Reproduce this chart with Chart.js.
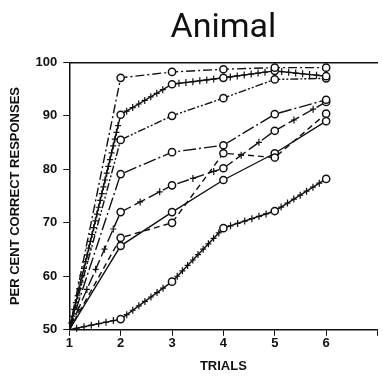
<!DOCTYPE html>
<html>
<head>
<meta charset="utf-8">
<script src="https://cdn.jsdelivr.net/npm/chart.js@4.4.1/dist/chart.umd.min.js"></script>
<style>
  html, body { margin: 0; padding: 0; background: #fff; }
  #wrap { width: 383px; height: 380px; }
</style>
</head>
<body>
<div id="wrap"><canvas id="my-chart"></canvas></div>
<script>
// values
var trials = [1, 2, 3, 4, 5, 6];
var curveA = [50, 97.1, 98.2, 98.7, 99, 99];      // dash-dot
var curveB = [50, 90.2, 95.9, 97.1, 98.4, 97.4];  // crosses
var curveC = [50, 85.5, 90, 93.3, 96.8, 97];      // dash-dot-dot
var curveD = [50, 79.1, 83.2, 84.5, 90.3, 93];    // long dash-dot
var curveE = [50, 72, 77, 80.2, 87.2, 92.6];      // dash + cross
var curveF = [50, 67.2, 70, 83, 82.2, 90.4];      // dashed
var curveG = [50, 65.7, 72, 78, 83, 89];          // solid
var curveH = [50, 52, 59, 69, 72.2, 78.2];        // solid + crosses

var yTicks = [50, 60, 70, 80, 90, 100];

function pts(vals) {
  return vals.map(function (v, i) { return { x: trials[i], y: v }; });
}

function line(vals, dash, cross) {
  return {
    data: pts(vals),
    borderColor: '#111',
    borderWidth: 1.4,
    borderDash: dash,
    pointRadius: [0, 3.6, 3.6, 3.6, 3.6, 3.6],
    pointBackgroundColor: '#fff',
    pointBorderColor: '#111',
    pointBorderWidth: 1.5,
    tension: 0,
    fill: false,
    crossSpacing: cross
  };
}

// draws the little "+" marks that sit along some of the curves
var crossMarks = {
  id: 'crossMarks',
  afterDatasetsDraw: function (chart) {
    var ctx = chart.ctx;
    ctx.save();
    ctx.strokeStyle = '#111';
    ctx.lineWidth = 1.2;
    chart.data.datasets.forEach(function (ds, di) {
      if (!ds.crossSpacing) return;
      var p = chart.getDatasetMeta(di).data;
      for (var i = 0; i < p.length - 1; i++) {
        var dx = p[i + 1].x - p[i].x, dy = p[i + 1].y - p[i].y;
        var len = Math.sqrt(dx * dx + dy * dy);
        for (var s = ds.crossSpacing; s < len - 5; s += ds.crossSpacing) {
          var x = p[i].x + dx * s / len, y = p[i].y + dy * s / len;
          ctx.beginPath();
          ctx.moveTo(x, y - 3.5); ctx.lineTo(x, y + 3.5);
          ctx.moveTo(x - 3, y); ctx.lineTo(x + 3, y);
          ctx.stroke();
        }
      }
    });
    ctx.restore();
  }
};

var tickFont = { family: 'Liberation Sans', size: 13, weight: 'bold' };

new Chart(document.getElementById('my-chart'), {
  type: 'line',
  data: {
    datasets: [
      line(curveA, [9, 3, 2, 3], 0),
      line(curveB, [], 7),
      line(curveC, [8, 2, 2, 2, 2, 2], 0),
      line(curveD, [13, 3, 2, 3], 0),
      line(curveE, [12, 4], 22),
      line(curveF, [6, 4], 0),
      line(curveG, [], 0),
      line(curveH, [], 7.5)
    ]
  },
  plugins: [crossMarks],
  options: {
    responsive: true,
    maintainAspectRatio: false,
    animation: false,
    layout: { padding: { left: 4, right: -4, bottom: 2 } },
    plugins: {
      legend: { display: false },
      tooltip: { enabled: false },
      title: {
        display: true,
        text: 'Animal',
        fullSize: false,
        color: '#111',
        font: { family: 'Roboto', size: 34, weight: 'normal' },
        padding: { top: 8, bottom: 13.5 }
      }
    },
    scales: {
      x: {
        type: 'linear',
        min: 1,
        max: 7,
        grid: { drawOnChartArea: false, color: '#111', tickLength: 6 },
        border: { display: true, color: '#111', width: 1.5 },
        ticks: {
          stepSize: 1,
          color: '#111',
          font: tickFont,
          padding: 0,
          maxRotation: 0,
          callback: function (v) { return v <= 6 ? v : ''; }
        },
        title: { display: true, text: 'TRIALS', color: '#111', font: tickFont, padding: { top: 7 } }
      },
      x2: {
        type: 'linear',
        position: 'top',
        min: 1,
        max: 7,
        grid: { drawOnChartArea: false, drawTicks: false },
        border: { display: true, color: '#111', width: 1.5 },
        ticks: { display: false }
      },
      y: {
        min: 50,
        max: 100,
        afterBuildTicks: function (axis) {
          axis.ticks = yTicks.map(function (v) { return { value: v }; });
        },
        grid: { drawOnChartArea: false, color: '#111', tickLength: 6 },
        border: { display: true, color: '#111', width: 1.5 },
        ticks: { color: '#111', font: tickFont, padding: 6 },
        title: { display: true, text: 'PER CENT CORRECT RESPONSES', color: '#111', font: tickFont, padding: { bottom: 6 } }
      }
    }
  }
});
</script>
</body>
</html>
